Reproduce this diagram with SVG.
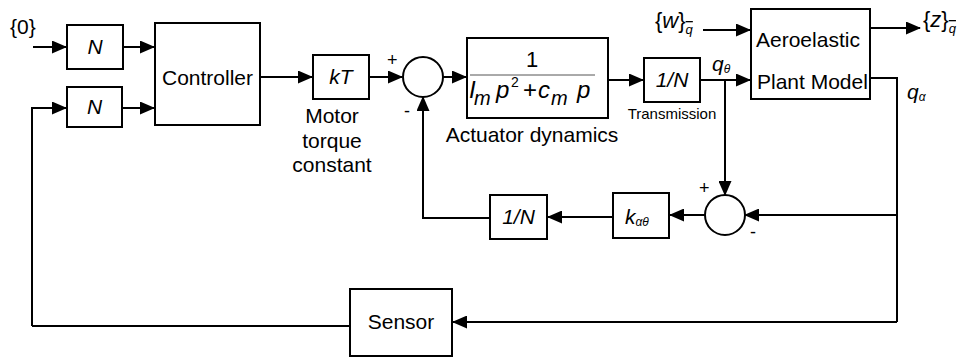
<svg xmlns="http://www.w3.org/2000/svg" width="966" height="358" viewBox="0 0 966 358">
<style>
.t{font-family:"Liberation Sans",Arial,sans-serif;font-size:21px;fill:#000}
.i{font-style:italic}
.s{font-size:18px}
.b{fill:#fff;stroke:#000;stroke-width:2}
.w{fill:none;stroke:#000;stroke-width:2}
.a{fill:none;stroke:#000;stroke-width:2;marker-end:url(#ah)}
</style>
<defs>
<marker id="ah" markerUnits="userSpaceOnUse" markerWidth="15" markerHeight="13" refX="14" refY="6.5" orient="auto">
<path d="M0,0 L15,6.5 L0,13 z" fill="#000"/>
</marker>
</defs>
<rect width="966" height="358" fill="#fff"/>
<g id="connectors">
<path class="a" d="M33,47 H66"/>
<path class="a" d="M123,47 H154"/>
<path class="a" d="M32,326 V108 H66"/>
<path class="a" d="M122,108 H154"/>
<path class="a" d="M260,77 H312"/>
<path class="a" d="M369,77 H402"/>
<path class="a" d="M443,77 H466"/>
<path class="a" d="M608,80 H643"/>
<path class="a" d="M700,80 H750"/>
<path class="a" d="M703,30 H750"/>
<path class="a" d="M870,28 H920"/>
<path class="w" d="M870,78 H897 V322"/>
<path class="a" d="M897,322 H453"/>
<path class="w" d="M350,326 H32"/>
<path class="a" d="M725,80 V195"/>
<path class="a" d="M897,215 H745"/>
<path class="a" d="M705,215 H670"/>
<path class="a" d="M613,217 H548"/>
<path class="a" d="M490,218 H423 V97"/>
</g>
<g id="input0"><text class="t" x="10" y="34">{0}</text></g>
<g id="N1"><rect class="b" x="67" y="25" width="56" height="44"/><text class="t i" x="95" y="54" text-anchor="middle">N</text></g>
<g id="N2"><rect class="b" x="67" y="87" width="55" height="40"/><text class="t i" x="94.5" y="114" text-anchor="middle">N</text></g>
<g id="controller"><rect class="b" x="155" y="23" width="105" height="102"/><text class="t" x="207.5" y="85" text-anchor="middle">Controller</text></g>
<g id="kT"><rect class="b" x="313" y="55" width="56" height="44"/><text class="t i" x="341" y="84" text-anchor="middle">kT</text>
<text class="t" x="332" y="123" text-anchor="middle">Motor</text><text class="t" x="332" y="148" text-anchor="middle">torque</text><text class="t" x="332" y="172" text-anchor="middle">constant</text></g>
<g id="sum1"><circle class="b" cx="423" cy="77" r="20"/><text class="t s" x="387" y="66">+</text><text class="t s" x="404" y="117">-</text></g>
<g id="actuator"><rect class="b" x="467" y="38" width="141" height="80"/>
<text class="t" x="532" y="67" text-anchor="middle" style="font-size:22px">1</text>
<line x1="470" y1="75" x2="595" y2="75" stroke="#555" stroke-width="1"/>
<text class="t i" y="98" style="font-size:24px"><tspan x="469">I</tspan><tspan x="474" dy="7" style="font-size:20px">m</tspan><tspan x="496" dy="-7">p</tspan><tspan x="511" dy="-11" style="font-size:14px;font-style:normal">2</tspan><tspan x="523" dy="11" style="font-style:normal">+</tspan><tspan x="538">c</tspan><tspan x="551" dy="7" style="font-size:20px">m</tspan><tspan x="577" dy="-7">p</tspan></text>
<text class="t" x="532" y="142" text-anchor="middle">Actuator dynamics</text></g>
<g id="transmission"><rect class="b" x="644" y="58" width="56" height="44"/><text class="t i" x="672" y="87" text-anchor="middle">1/N</text><text class="t" x="672" y="119" text-anchor="middle" style="font-size:15px">Transmission</text></g>
<g id="qtheta"><text class="t i" x="712" y="71">q<tspan style="font-size:12px" dy="2">θ</tspan></text></g>
<g id="plant"><rect class="b" x="751" y="9" width="119" height="90"/><text class="t" x="756" y="47">Aeroelastic</text><text class="t" x="757" y="89">Plant Model</text></g>
<g id="w"><text class="t" x="655" y="28" style="font-size:22px">{<tspan class="i">w</tspan>}<tspan style="font-size:13px;text-decoration:overline" dy="6" class="i">q</tspan></text></g>
<g id="z"><text class="t" x="923" y="27" style="font-size:22px">{<tspan class="i">z</tspan>}<tspan style="font-size:13px;text-decoration:overline" dy="6" class="i">q</tspan></text></g>
<g id="qalpha"><text class="t i" x="907" y="99">q<tspan style="font-size:12px" dy="2">α</tspan></text></g>
<g id="sum2"><circle class="b" cx="725" cy="215" r="20"/><text class="t s" x="699" y="194">+</text><text class="t s" x="750" y="238">-</text></g>
<g id="kat"><rect class="b" x="613" y="193" width="56" height="45"/><text class="t i" x="625" y="224">k<tspan style="font-size:12px" dy="2">αθ</tspan></text></g>
<g id="invN"><rect class="b" x="490" y="195" width="57" height="44"/><text class="t i" x="518.5" y="224" text-anchor="middle">1/N</text></g>
<g id="sensor"><rect class="b" x="350" y="289" width="102" height="67"/><text class="t" x="401" y="329" text-anchor="middle">Sensor</text></g>
</svg>
